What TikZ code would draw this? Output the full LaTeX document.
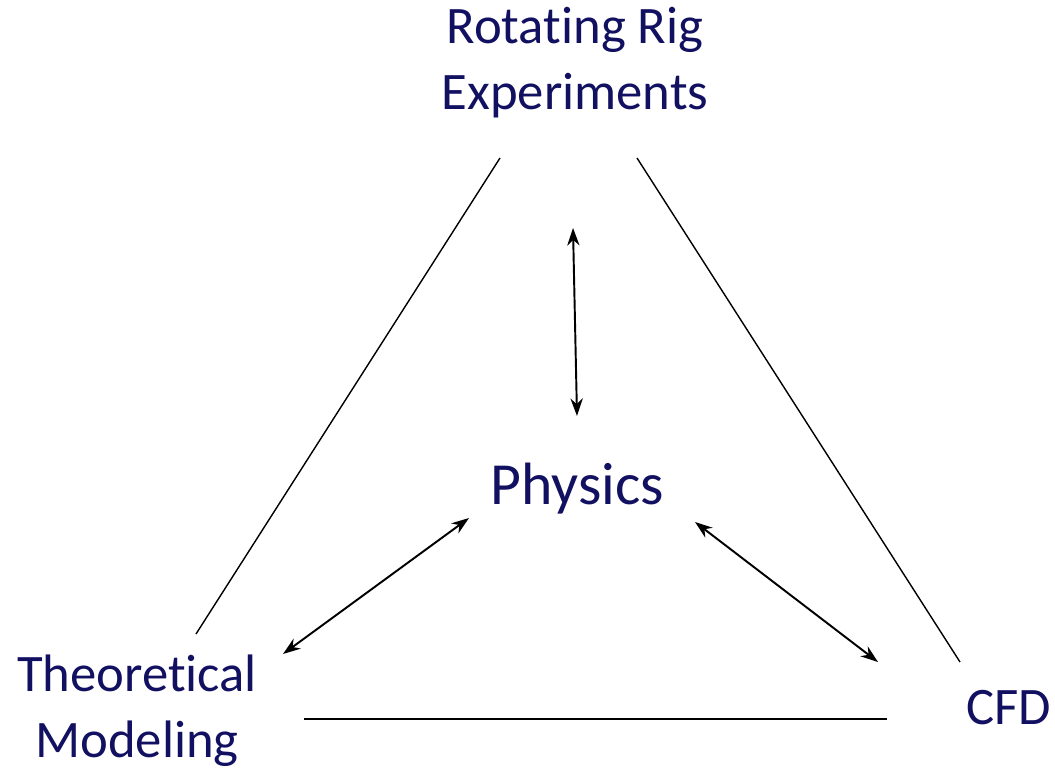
\documentclass[tikz,border=0pt]{standalone}
\usepackage{fontspec}
\setmainfont[Ligatures=NoCommon]{Carlito}
\usetikzlibrary{arrows.meta}
\definecolor{labelnavy}{RGB}{18,16,96}

\begin{document}
\begin{tikzpicture}[
			x=0.02cm,y=-0.02cm,
			label/.style={
				text=labelnavy,
				align=center,
				inner sep=0pt,
				font=\fontsize{30}{37.5}\selectfont
			},
			edge/.style={line width=0.8pt},
			arrow/.style={{Stealth[length=10pt,width=7pt]}-{Stealth[length=10pt,width=7pt]},line width=1.1pt}
			]
			\useasboundingbox (0,0) rectangle (1055,770);
			
			\node[label] (rig) at (575,63) {Rotating Rig\\Experiments};
			\node[label,font=\fontsize{34}{40}\selectfont] (physics) at (577,489) {Physics};
			\node[label] (theory) at (137,711) {Theoretical\\Modeling};
			\node[label] (cfd) at (1009,708) {CFD};
			
			% triangle sides
			\coordinate (leftTop) at (500,158);
			\coordinate (leftBot) at (196,634);
			\coordinate (rightTop) at (637,158);
			\coordinate (rightBot) at (960,662);
			\coordinate (baseLeft) at (304,719);
			\coordinate (baseRight) at (887,719);
			\draw[edge] (leftTop) -- (leftBot);
			\draw[edge] (rightTop) -- (rightBot);
			\draw[edge] (baseLeft) -- (baseRight);
			
			% links to physics
			\coordinate (upTip) at (573,228);
			\coordinate (upEnd) at (577,416);
			\coordinate (leftTip) at (469,518);
			\coordinate (leftEnd) at (283,654);
			\coordinate (rightTip) at (695,522);
			\coordinate (rightEnd) at (878,662);
			\draw[arrow] (upTip) -- (upEnd);
			\draw[arrow] (leftTip) -- (leftEnd);
			\draw[arrow] (rightTip) -- (rightEnd);
			
		\end{tikzpicture}
\end{document}
